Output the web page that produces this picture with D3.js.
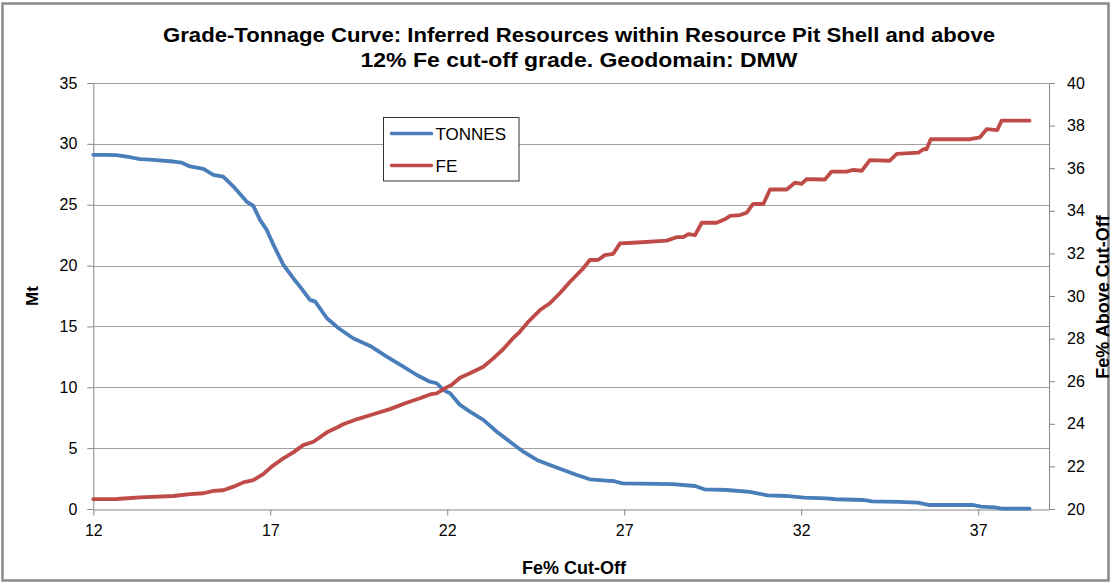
<!DOCTYPE html>
<html>
<head>
<meta charset="utf-8">
<script src="https://cdn.jsdelivr.net/npm/d3@7"></script>
<style>
  html, body { margin: 0; padding: 0; background: #ffffff; }
  svg { display: block; font-family: "Liberation Sans", Arial, sans-serif; }
</style>
</head>
<body>
<svg id="chart" width="1112" height="583"></svg>
<script>
// Grade-tonnage data: cut-off grade (Fe%) against tonnage (Mt) and mean grade above cut-off (Fe%)
const tonnesCutoff = [12.0, 12.3, 12.66, 13.04, 13.32, 13.6, 14.26, 14.5, 14.73, 15.11, 15.39, 15.67, 15.96,
  16.33, 16.52, 16.71, 16.9, 17.09, 17.37, 17.65, 17.84, 18.12, 18.27, 18.6, 18.93, 19.34, 19.82, 20.29,
  20.76, 21.14, 21.51, 21.7, 21.89, 22.08, 22.36, 22.64, 23.02, 23.4, 23.77, 24.15, 24.53, 24.9, 25.28,
  25.66, 26.03, 26.5, 26.69, 26.95, 28.36, 29.0, 29.26, 29.9, 30.54, 31.05, 31.57, 32.08, 32.72, 32.98,
  33.75, 34.0, 34.77, 35.29, 35.6, 36.83, 37.08, 37.47, 37.66, 38.45];
const tonnesMt = [29.1, 29.1, 29.08, 28.9, 28.74, 28.7, 28.55, 28.45, 28.14, 27.95, 27.45, 27.3, 26.49,
  25.26, 24.9, 23.75, 22.93, 21.7, 20.05, 18.96, 18.27, 17.18, 17.04, 15.67, 14.85, 14.03, 13.4, 12.52,
  11.7, 11.01, 10.46, 10.33, 9.78, 9.51, 8.55, 8.0, 7.32, 6.35, 5.53, 4.71, 4.03, 3.62, 3.21,
  2.79, 2.44, 2.33, 2.3, 2.11, 2.05, 1.89, 1.62, 1.56, 1.4, 1.12, 1.07, 0.93, 0.88, 0.8,
  0.74, 0.63, 0.58, 0.52, 0.33, 0.33, 0.19, 0.14, 0.03, 0.03];

const feCutoff = [12.0, 12.66, 13.32, 14.26, 14.73, 15.11, 15.39, 15.67, 15.96, 16.24, 16.52, 16.8, 17.04,
  17.37, 17.65, 17.93, 18.22, 18.6, 18.93, 19.06, 19.44, 19.91, 20.38, 20.85, 21.23, 21.51, 21.7, 21.98,
  22.12, 22.36, 22.64, 23.02, 23.3, 23.58, 23.87, 24.05, 24.29, 24.62, 24.9, 25.18, 25.47, 25.84, 26.03,
  26.27, 26.45, 26.69, 26.88, 27.25, 28.2, 28.48, 28.67, 28.81, 29.0, 29.19, 29.61, 29.84, 29.99, 30.27,
  30.46, 30.64, 30.93, 31.12, 31.59, 31.82, 32.01, 32.15, 32.67, 32.86, 33.28, 33.47, 33.71, 33.94, 34.5,
  34.7, 34.93, 35.31, 35.45, 35.54, 35.66, 36.77, 37.05, 37.24, 37.54, 37.66, 38.45];
const feGrade = [20.46, 20.47, 20.55, 20.61, 20.7, 20.74, 20.85, 20.88, 21.05, 21.25, 21.36, 21.64, 21.99,
  22.38, 22.66, 23.0, 23.16, 23.6, 23.86, 23.98, 24.21, 24.45, 24.69, 24.99, 25.2, 25.38, 25.43, 25.71,
  25.82, 26.16, 26.37, 26.68, 27.07, 27.5, 28.04, 28.32, 28.79, 29.34, 29.66, 30.13, 30.67, 31.3, 31.69,
  31.7, 31.92, 31.98, 32.47, 32.5, 32.6, 32.76, 32.76, 32.9, 32.86, 33.44, 33.44, 33.6, 33.76, 33.8,
  33.91, 34.32, 34.32, 35.0, 35.0, 35.32, 35.26, 35.49, 35.47, 35.84, 35.84, 35.92, 35.88, 36.38, 36.35,
  36.67, 36.7, 36.73, 36.89, 36.89, 37.36, 37.36, 37.45, 37.83, 37.79, 38.23, 38.23];

const xTicks = [12, 17, 22, 27, 32, 37];
const mtTicks = [0, 5, 10, 15, 20, 25, 30, 35];
const feTicks = [20, 22, 24, 26, 28, 30, 32, 34, 36, 38, 40];

const titleLines = [
  "Grade-Tonnage Curve: Inferred Resources within Resource Pit Shell and above",
  "12% Fe cut-off grade. Geodomain: DMW"
];
const seriesNames = ["TONNES", "FE"];
const seriesColors = ["#4a7ebb", "#be4b48"];

const svg = d3.select("#chart");
const plot = { left: 93.3, right: 1049, top: 83, bottom: 509 };

const x = d3.scaleLinear().domain([12, 39]).range([plot.left, plot.right]);
const yMt = d3.scaleLinear().domain([0, 35]).range([plot.bottom, plot.top]);
const yFe = d3.scaleLinear().domain([20, 40]).range([plot.bottom, plot.top]);

// chart frame
svg.append("rect")
  .attr("x", 2.5).attr("y", 3.5).attr("width", 1106).attr("height", 577)
  .attr("fill", "#ffffff").attr("stroke", "#8a8a8a").attr("stroke-width", 2.5);

// horizontal gridlines from the Mt axis
svg.append("g").selectAll("line").data(mtTicks.filter(d => d > 0)).join("line")
  .attr("x1", plot.left).attr("x2", plot.right)
  .attr("y1", d => Math.round(yMt(d)) + 0.5).attr("y2", d => Math.round(yMt(d)) + 0.5)
  .attr("stroke", "#a0a0a0").attr("stroke-width", 1);

// axes
function styleAxis(g) {
  g.selectAll(".domain").attr("stroke", "#868686");
  g.selectAll(".tick line").attr("stroke", "#868686");
  g.selectAll(".tick text").attr("fill", "#000").style("font-size", "16px")
    .style("font-family", '"Liberation Sans", Arial, sans-serif');
}

svg.append("g")
  .attr("transform", `translate(0,${plot.bottom + 0.5})`)
  .call(d3.axisBottom(x).tickValues(xTicks).tickSize(6).tickSizeOuter(0).tickPadding(9).tickFormat(d3.format("d")))
  .call(styleAxis);

svg.append("g")
  .attr("transform", `translate(${plot.left},0)`)
  .call(d3.axisLeft(yMt).tickValues(mtTicks).tickSize(6).tickSizeOuter(0).tickPadding(10).tickFormat(d3.format("d")))
  .call(styleAxis);

svg.append("g")
  .attr("transform", `translate(${plot.right},0)`)
  .call(d3.axisRight(yFe).tickValues(feTicks).tickSize(6).tickSizeOuter(0).tickPadding(12).tickFormat(d3.format("d")))
  .call(styleAxis);

// series lines
const tonnesData = tonnesCutoff.map((c, i) => [c, tonnesMt[i]]);
const feData = feCutoff.map((c, i) => [c, feGrade[i]]);

svg.append("path").datum(tonnesData)
  .attr("fill", "none").attr("stroke", seriesColors[0]).attr("stroke-width", 3.8)
  .attr("stroke-linejoin", "round").attr("stroke-linecap", "round")
  .attr("d", d3.line().x(d => x(d[0])).y(d => yMt(d[1])));

svg.append("path").datum(feData)
  .attr("fill", "none").attr("stroke", seriesColors[1]).attr("stroke-width", 3.8)
  .attr("stroke-linejoin", "round").attr("stroke-linecap", "round")
  .attr("d", d3.line().x(d => x(d[0])).y(d => yFe(d[1])));

// title
const titleWidths = [832, 437];
svg.append("g").selectAll("text").data(titleLines).join("text")
  .attr("x", 579).attr("y", (d, i) => 42 + i * 25)
  .attr("text-anchor", "middle")
  .attr("font-weight", "bold").attr("font-size", "21px")
  .attr("textLength", (d, i) => titleWidths[i])
  .attr("lengthAdjust", "spacingAndGlyphs")
  .text(d => d);

// axis titles
svg.append("text")
  .attr("transform", "translate(38,296) rotate(-90)")
  .attr("text-anchor", "middle").attr("font-weight", "bold").attr("font-size", "17px")
  .text("Mt");

svg.append("text")
  .attr("x", 574).attr("y", 574)
  .attr("text-anchor", "middle").attr("font-weight", "bold").attr("font-size", "18px")
  .text("Fe% Cut-Off");

svg.append("text")
  .attr("transform", "translate(1109,297) rotate(-90)")
  .attr("text-anchor", "middle").attr("font-weight", "bold").attr("font-size", "18px")
  .text("Fe% Above Cut-Off");

// legend
const legend = svg.append("g").attr("transform", "translate(383.5,117.5)");
legend.append("rect").attr("width", 135.5).attr("height", 63.5)
  .attr("fill", "#ffffff").attr("stroke", "#333333").attr("stroke-width", 1);
const items = legend.selectAll("g.item").data(seriesNames).join("g")
  .attr("class", "item")
  .attr("transform", (d, i) => `translate(0,${16 + i * 32})`);
items.append("line").attr("x1", 8).attr("x2", 48)
  .attr("stroke", (d, i) => seriesColors[i]).attr("stroke-width", 3.5).attr("stroke-linecap", "round");
items.append("text").attr("x", 52).attr("y", 6.5)
  .attr("font-size", "17px").attr("fill", "#000").text(d => d);
</script>
</body>
</html>
